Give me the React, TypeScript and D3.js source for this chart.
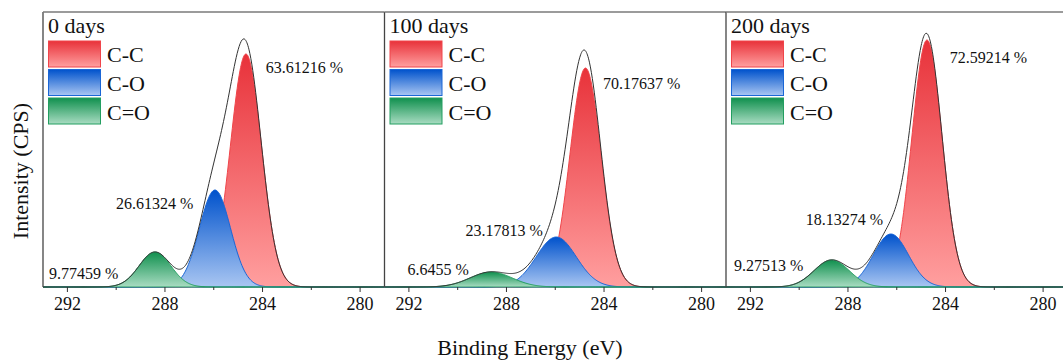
import React from "react";
import * as d3 from "d3";

// panels (ageing time)
const panelTitles = ["0 days", "100 days", "200 days"];
const componentNames = ["C-C", "C-O", "C=O"];

// fitted peak components per panel: [C-C, C-O, C=O]
const peakCenters = [
  [284.68, 285.95, 288.41],
  [284.76, 285.96, 288.63],
  [284.76, 286.24, 288.67],
];
const peakHeights = [
  [9320, 3880, 1400],
  [8760, 2000, 600],
  [9880, 2120, 1080],
];
const peakFwhm = [
  [1.5, 1.5, 1.53],
  [1.5, 1.93, 2.03],
  [1.46, 1.7, 1.7],
];

// area percentages and where the labels sit (eV, CPS)
const peakPercents = [
  ["63.61216 %", "26.61324 %", "9.77459 %"],
  ["70.17637 %", "23.17813 %", "6.6455 %"],
  ["72.59214 %", "18.13274 %", "9.27513 %"],
];
const labelEnergy = [
  [283.87, 290.01, 292.75],
  [284.04, 289.68, 292.06],
  [283.83, 289.73, 292.67],
];
const labelIntensity = [
  [8800, 3360, 560],
  [8160, 2280, 720],
  [9200, 2720, 880],
];

const xMajorTicks = [292, 288, 284, 280];
const xMinorTicks = [290, 286, 282];
const energyDomain: [number, number] = [293, 279];
const intensityDomain: [number, number] = [0, 11000];

const W = 1063;
const H = 360;
const plotLeft = 43;
const plotTop = 12;
const plotBottom = 287;
const panelWidth = 341.5;
const FONT = "'Liberation Serif', 'Times New Roman', serif";

const palette = [
  { top: "#e8323a", bottom: "#ff9f9f", stroke: "#f0454a" },
  { top: "#0052cc", bottom: "#a9c6f2", stroke: "#1a66d6" },
  { top: "#10904e", bottom: "#a9dcc2", stroke: "#239e60" },
];

const energies = d3.range(energyDomain[0], energyDomain[1] - 0.001, -0.04);

function gauss(e: number, c: number, h: number, fwhm: number) {
  const s = fwhm / 2.3548;
  return h * Math.exp(-((e - c) ** 2) / (2 * s * s));
}

function Panel({ idx }: { idx: number }) {
  const x0 = plotLeft + idx * panelWidth;
  const x = d3.scaleLinear().domain(energyDomain).range([x0, x0 + panelWidth]);
  const y = d3.scaleLinear().domain(intensityDomain).range([plotBottom, plotTop]);

  const comps = peakCenters[idx].map((c, k) =>
    energies.map((e) => ({ e, v: gauss(e, c, peakHeights[idx][k], peakFwhm[idx][k]) }))
  );
  const envelope = energies.map((e, i) => ({
    e,
    v: comps.reduce((s, comp) => s + comp[i].v, 0),
  }));

  const area = d3
    .area<{ e: number; v: number }>()
    .x((d) => x(d.e))
    .y0(y(0))
    .y1((d) => y(d.v))
    .curve(d3.curveMonotoneX);
  const line = d3
    .line<{ e: number; v: number }>()
    .x((d) => x(d.e))
    .y((d) => y(d.v))
    .curve(d3.curveMonotoneX);

  return (
    <g>
      {/* peaks */}
      {comps.map((comp, k) => (
        <path
          key={k}
          d={area(comp) ?? ""}
          fill={`url(#peak-grad-${k})`}
          stroke={palette[k].stroke}
          strokeWidth={1}
        />
      ))}
      <path d={line(envelope) ?? ""} fill="none" stroke="#333" strokeWidth={1} />

      {/* frame */}
      <line x1={x0} x2={x0} y1={plotTop} y2={plotBottom} stroke="#444" strokeWidth={1.3} />
      <line x1={x0} x2={x0 + panelWidth} y1={plotTop} y2={plotTop} stroke="#7a7a7a" strokeWidth={1.5} />

      {/* ticks */}
      {xMajorTicks.map((t) => (
        <g key={t}>
          <line x1={x(t)} x2={x(t)} y1={plotBottom} y2={plotBottom + 5} stroke="#333" strokeWidth={1} />
          <text x={x(t)} y={310} textAnchor="middle" fontSize={18} fontFamily={FONT} fill="#111">
            {t}
          </text>
        </g>
      ))}
      {xMinorTicks.map((t) => (
        <line key={t} x1={x(t)} x2={x(t)} y1={plotBottom} y2={plotBottom + 3} stroke="#333" strokeWidth={1} />
      ))}

      {/* percentage labels */}
      {peakPercents[idx].map((p, k) => (
        <text
          key={k}
          x={x(labelEnergy[idx][k])}
          y={y(labelIntensity[idx][k]) + 5.5}
          fontSize={16}
          fontFamily={FONT}
          fill="#111"
        >
          {p}
        </text>
      ))}

      {/* legend */}
      <text x={x0 + 5} y={33} fontSize={22} fontFamily={FONT} fill="#111">
        {panelTitles[idx]}
      </text>
      {componentNames.map((n, k) => (
        <g key={n}>
          <rect
            x={x0 + 5.5}
            y={41 + k * 28.5}
            width={52}
            height={26}
            fill={`url(#legend-grad-${k})`}
            stroke={palette[k].stroke}
            strokeWidth={1}
          />
          <text x={x0 + 64} y={62 + k * 28.8} fontSize={22} fontFamily={FONT} fill="#111">
            {n}
          </text>
        </g>
      ))}
    </g>
  );
}

export default function App() {
  return (
    <svg
      width={W}
      height={H}
      style={{ position: "absolute", left: 0, top: 0, background: "#fff" }}
    >
      <defs>
        {palette.map((c, k) => (
          <React.Fragment key={k}>
            <linearGradient id={`peak-grad-${k}`} x1="0" x2="0" y1="0" y2="1">
              <stop offset="0%" stopColor={c.top} />
              <stop offset="100%" stopColor={c.bottom} />
            </linearGradient>
            <linearGradient id={`legend-grad-${k}`} x1="0" x2="0" y1="0" y2="1">
              <stop offset="0%" stopColor={c.top} />
              <stop offset="100%" stopColor={c.bottom} />
            </linearGradient>
          </React.Fragment>
        ))}
      </defs>
      <rect width={W} height={H} fill="#fff" />
      {panelTitles.map((_, i) => (
        <Panel key={i} idx={i} />
      ))}
      <text
        transform={`translate(28,171) rotate(-90)`}
        textAnchor="middle"
        fontSize={22}
        fontFamily={FONT}
        fill="#111"
      >
        Intensity (CPS)
      </text>
      <text x={530} y={355} textAnchor="middle" fontSize={22} fontFamily={FONT} fill="#111">
        Binding Energy (eV)
      </text>
    </svg>
  );
}
